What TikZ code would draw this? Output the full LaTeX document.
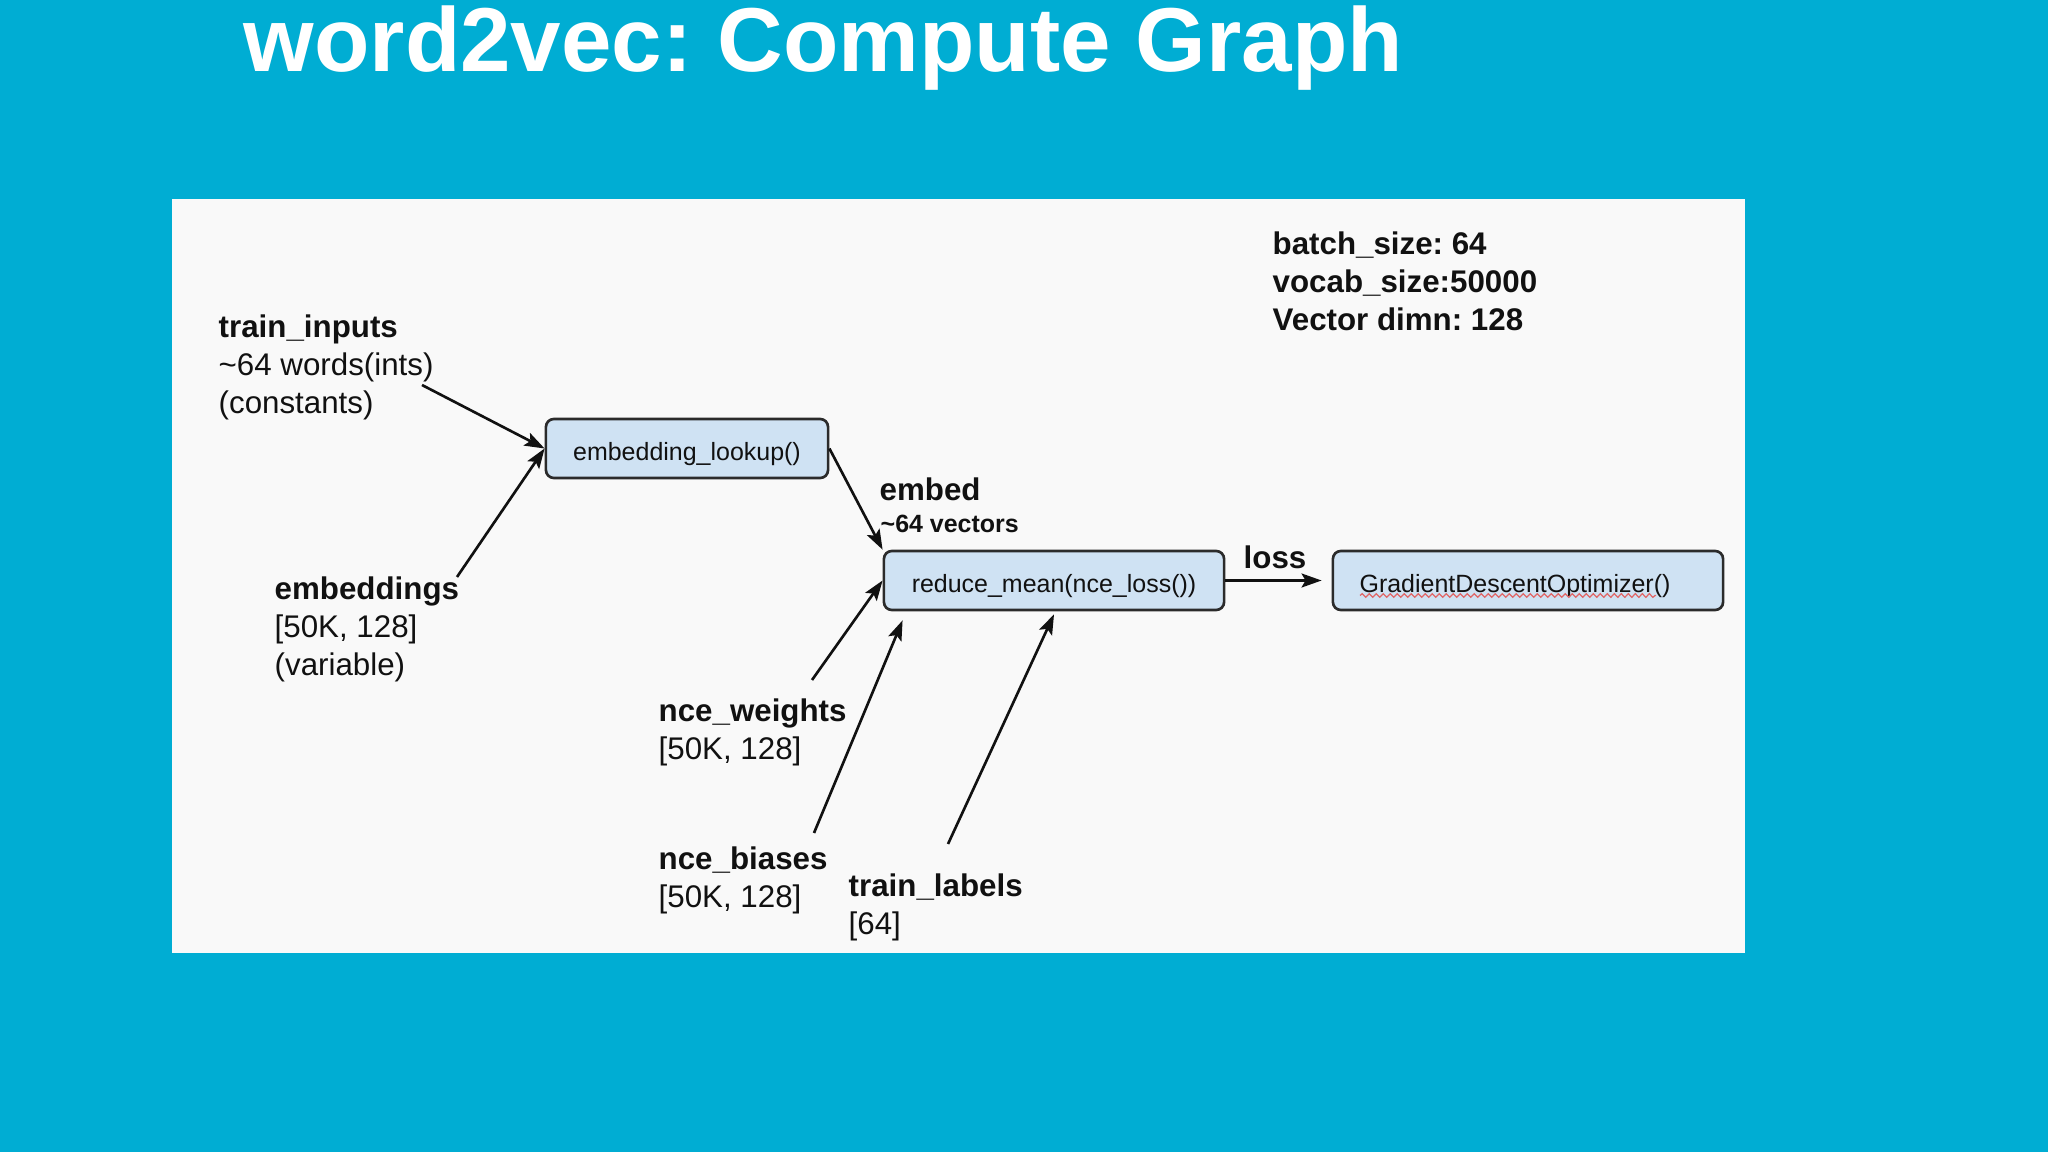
\documentclass[tikz,border=0pt]{standalone}
\usepackage{fontspec}
\setmainfont{Liberation Sans}
\frenchspacing
\usetikzlibrary{arrows.meta,calc,decorations.pathmorphing}
\definecolor{WVSlide}{HTML}{00ADD3}
\definecolor{WVPanel}{HTML}{F9F9F9}
\definecolor{WVBox}{HTML}{CFE2F3}
\definecolor{WVLine}{HTML}{2B2B2B}
\definecolor{WVInk}{HTML}{111111}
\definecolor{WVSpell}{HTML}{E06666}
\tikzset{
  flow/.style={-{Stealth[length=2.0mm,width=1.4mm,inset=0.4mm]},WVInk,line width=0.75pt},
  op/.style={draw=WVLine,line width=0.75pt,fill=WVBox,rounded corners=0.8mm,
             text=WVInk,inner sep=0pt,minimum height=0.59cm,
             text height=0.66em,text depth=0pt,
             font=\fontsize{7.1}{8.5}\selectfont},
  label/.style={text=WVInk,inner sep=0pt,align=left,anchor=north west,
                font=\fontsize{8.9}{10.8}\selectfont},
  sublabel/.style={text=WVInk,inner sep=0pt,anchor=north west,
                   font=\fontsize{7.1}{8.5}\selectfont\bfseries},
  slidetitle/.style={text=white,inner sep=0pt,anchor=base west,
                     font=\fontsize{25.8}{30}\selectfont\bfseries},
  spell/.style={WVSpell,line width=0.35pt,decorate,
                decoration={snake,amplitude=0.18mm,segment length=0.7mm}},
}

\begin{document}
\begin{tikzpicture}[x=0.01cm,y=-0.01cm]
    \useasboundingbox (0,0) rectangle (2048,1152);
    \fill[WVSlide] (0,0) rectangle (2048,1152);
    \node[slidetitle] (title) at (243,72) {word2vec: Compute Graph};
    \fill[WVPanel] (172,199) rectangle (1745,953);

    % graph ops
    \node[op,minimum width=2.82cm] (lookup) at (687,448.5) {embedding\_lookup()};
    \node[op,minimum width=3.40cm] (reduce) at (1054,580.5) {reduce\_mean(nce\_loss())};
    \node[op,minimum width=3.90cm] (gdo) at (1528,580.5) {GradientDescentOptimizer()\kern0.26cm};
    \draw[spell] ($(gdo.center)+(-168,15)$)--($(gdo.center)+(128,15)$);

    % tensors
    \node[label] (inputs) at (218,314)
      {\bfseries train\_inputs\\\textasciitilde64 words(ints)\\(constants)};
    \node[label] (embeddings) at (274,576.5) {\bfseries embeddings\\{[50K, 128]}\\(variable)};
    \node[label] (weights) at (658,698) {\bfseries nce\_weights\\{[50K, 128]}};
    \node[label] (biases) at (658,846.5) {\bfseries nce\_biases\\{[50K, 128]}};
    \node[label] (labels) at (848,873) {\bfseries train\_labels\\{[64]}};
    \node[label] (params) at (1272,231.5)
      {\bfseries batch\_size: 64\\\bfseries vocab\_size:50000\\\bfseries Vector dimn: 128};
    \node[label,font=\fontsize{8.9}{10.8}\selectfont\bfseries] (embed) at (879,477.5) {embed};
    \node[sublabel] (vectors) at (880,514) {\textasciitilde64 vectors};
    \node[label,font=\fontsize{8.9}{10.8}\selectfont\bfseries] (loss) at (1243,545.5) {loss};

    \coordinate (inTail) at (422,385);
    \coordinate (embTail) at (457,577);
    \coordinate (nwTail) at (812,680);
    \coordinate (nbTail) at (814,833);
    \coordinate (tlTail) at (948,844);

    \draw[flow] (inTail)--(lookup.west);
    \draw[flow] (embTail)--(lookup.west);
    \draw[flow] (lookup.east)--(reduce.north west);
    \draw[flow] (nwTail)--(reduce.west);
    \draw[flow] (nbTail)--($(reduce.south west)+(20,9)$);
    \draw[flow] (tlTail)--($(reduce.south)+(0,3)$);
    \draw[flow,shorten >=1mm] (reduce.east)--(gdo.west);
  \end{tikzpicture}
\end{document}
